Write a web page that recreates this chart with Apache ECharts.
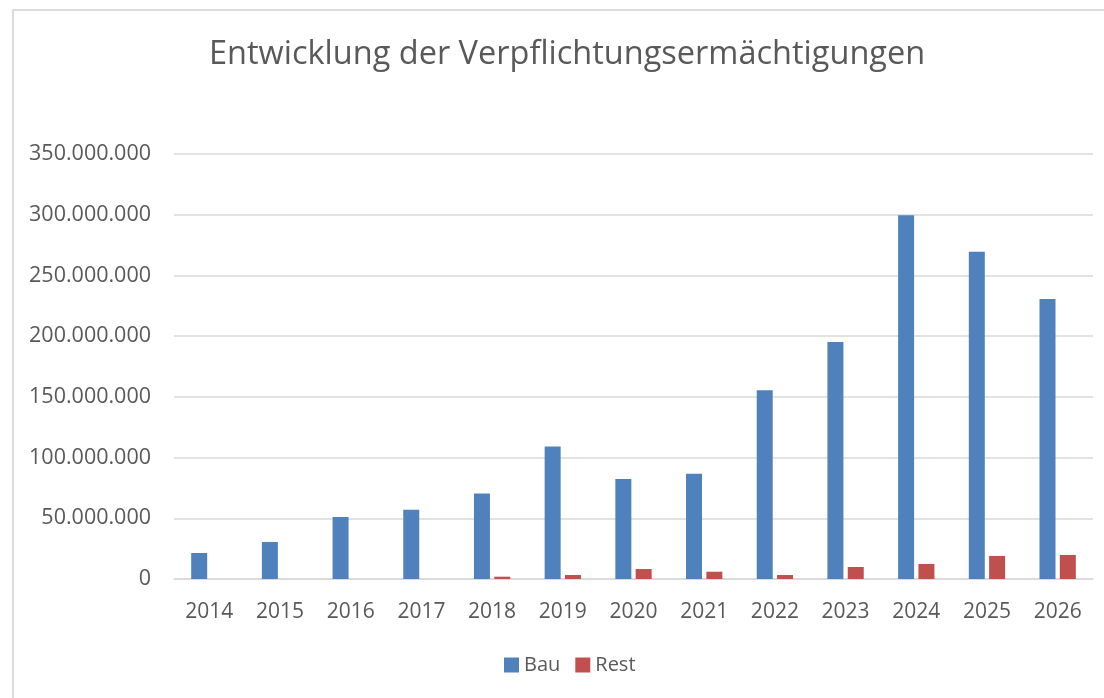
<!DOCTYPE html>
<html>
<head>
<meta charset="utf-8">
<script src="https://cdn.jsdelivr.net/npm/echarts@6/dist/echarts.min.js"></script>
<style>
	html, body { margin: 0; padding: 0; background: #fff; }
	#chart { position: absolute; left: 0; top: 0; width: 1104px; height: 698px; }
	#frame { position: absolute; left: 12px; top: 9px; right: -2px; bottom: -2px; border: 2px solid #dcdcdc; pointer-events: none; }
</style>
</head>
<body>
<div id="chart"></div>
<div id="frame"></div>
<script>
	// Jahre
	var years = [ '2014', '2015', '2016', '2017', '2018', '2019', '2020', '2021', '2022', '2023', '2024', '2025', '2026' ];
	// Bau / Rest, aus dem Bild geschaetzt
	var bau = [ 21400000, 30500000, 51000000, 57000000, 70500000, 109200000, 82400000, 86700000, 155400000, 195200000, 299500000, 269400000, 230600000 ];
	var rest = [ 0, 0, 0, 0, 1900000, 3300000, 8200000, 6000000, 3300000, 9900000, 12400000, 19000000, 19800000 ];
	var yTicks = { min : 0, max : 350000000, interval : 50000000 };

	var font = 'Open Sans';
	var textColor = '#595959';

	// 350000000 -> 350.000.000
	function fmt(v) {
		return String(v).replace(/\B(?=(\d{3})+(?!\d))/g, '.');
	}

	var chart = echarts.init(document.getElementById('chart'));
	var option = {
		backgroundColor : '#FFFFFF',
		animation : false,
		title : {
			text : 'Entwicklung der Verpflichtungsermächtigungen',
			left : 204,
			top : 33,
			textStyle : {
				fontFamily : font,
				fontWeight : 'normal',
				fontSize : 32.5,
				color : textColor
			}
		},
		legend : {
			data : [ 'Bau', 'Rest' ],
			bottom : 18,
			left : 499,
			itemWidth : 15,
			itemHeight : 15,
			itemGap : 15,
			icon : 'rect',
			textStyle : {
				fontFamily : font,
				fontSize : 20,
				color : textColor
			}
		},
		grid : {
			left : 174,
			right : 11,
			top : 154,
			bottom : 119,
			containLabel : false
		},
		xAxis : [ {
			type : 'category',
			data : years,
			axisTick : { show : false },
			axisLine : { lineStyle : { color : '#d9d9d9', width : 1.5 } },
			axisLabel : {
				fontFamily : font,
				fontSize : 21,
				color : textColor,
				margin : 23
			}
		} ],
		yAxis : [ {
			type : 'value',
			min : yTicks.min,
			max : yTicks.max,
			interval : yTicks.interval,
			axisLine : { show : false },
			axisTick : { show : false },
			splitLine : { lineStyle : { color : '#d9d9d9', width : 1.5 } },
			axisLabel : {
				fontFamily : font,
				fontSize : 21.5,
				color : textColor,
				margin : 23,
				formatter : fmt
			}
		} ],
		series : [ {
			name : 'Bau',
			type : 'bar',
			barWidth : 16,
			barGap : '27%',
			itemStyle : { color : '#4F81BD' },
			data : bau
		}, {
			name : 'Rest',
			type : 'bar',
			barWidth : 16,
			itemStyle : { color : '#C0504D' },
			data : rest
		} ]
	};
	chart.setOption(option);
</script>
</body>
</html>
